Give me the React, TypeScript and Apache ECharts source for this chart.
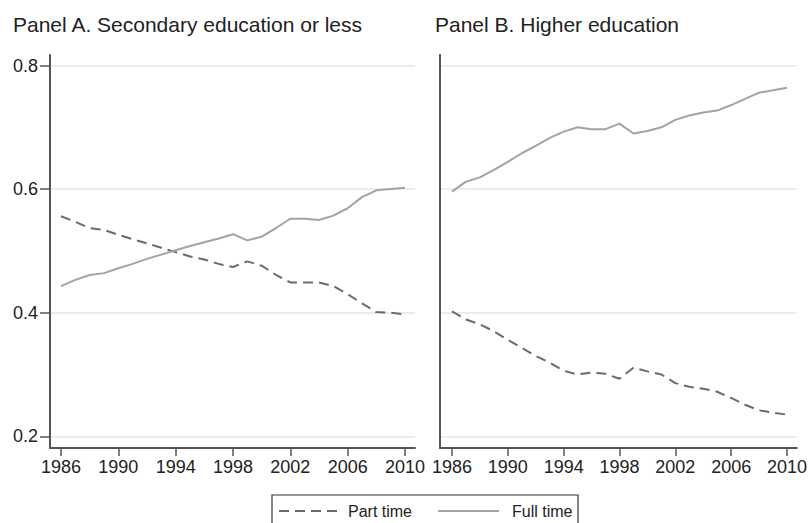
import React, { useEffect, useRef } from "react";
import * as echarts from "echarts";

const years = [1986, 1987, 1988, 1989, 1990, 1991, 1992, 1993, 1994, 1995, 1996, 1997, 1998, 1999, 2000, 2001, 2002, 2003, 2004, 2005, 2006, 2007, 2008, 2009, 2010];
const xTickYears = [1986, 1990, 1994, 1998, 2002, 2006, 2010];
const yTicks = [0.2, 0.4, 0.6, 0.8];

const panelAPart = [0.556, 0.547, 0.537, 0.534, 0.526, 0.519, 0.512, 0.505, 0.498, 0.491, 0.486, 0.479, 0.474, 0.483, 0.476, 0.461, 0.449, 0.449, 0.449, 0.443, 0.430, 0.415, 0.401, 0.400, 0.397];
const panelAFull = [0.443, 0.453, 0.461, 0.464, 0.472, 0.479, 0.487, 0.494, 0.501, 0.508, 0.514, 0.520, 0.527, 0.517, 0.523, 0.537, 0.552, 0.552, 0.550, 0.557, 0.569, 0.587, 0.598, 0.600, 0.602];
const panelBPart = [0.402, 0.389, 0.381, 0.370, 0.356, 0.343, 0.330, 0.319, 0.306, 0.300, 0.303, 0.301, 0.293, 0.311, 0.305, 0.300, 0.286, 0.280, 0.277, 0.272, 0.262, 0.251, 0.242, 0.238, 0.235];
const panelBFull = [0.596, 0.612, 0.619, 0.631, 0.644, 0.658, 0.670, 0.683, 0.693, 0.700, 0.697, 0.697, 0.706, 0.690, 0.694, 0.700, 0.712, 0.719, 0.724, 0.727, 0.736, 0.746, 0.756, 0.760, 0.764];

const titles = ["Panel A. Secondary education or less", "Panel B. Higher education"];
const seriesNames = ["Part time", "Full time"];

const FONT = "Liberation Sans, Arial, Helvetica, sans-serif";
const AXIS_COLOR = "#555555";
const PART_COLOR = "#6b6b6b";
const FULL_COLOR = "#a3a3a3";
const GRID_COLOR = "#e6e6e6";
const TEXT_COLOR = "#222222";
const DASH = [10, 6];

function pairs(values: number[]) {
  return years.map((y, i) => [y, values[i]]);
}

export default function App() {
  const ref = useRef<HTMLDivElement>(null);

  useEffect(() => {
    if (!ref.current) return;
    const chart = echarts.init(ref.current, undefined, { renderer: "svg" });

    const xAxisCommon = (gridIndex: number, min: number) => ({
      type: "value",
      gridIndex,
      min,
      max: 2010.7,
      axisLine: { show: true, lineStyle: { color: AXIS_COLOR, width: 2 } },
      axisTick: {
        show: true,
        inside: false,
        length: 8,
        customValues: xTickYears,
        lineStyle: { color: AXIS_COLOR, width: 1.5 },
      },
      axisLabel: {
        show: true,
        customValues: xTickYears,
        margin: 10,
        fontSize: 18,
        fontFamily: FONT,
        color: TEXT_COLOR,
        formatter: (v: number) => String(Math.round(v)),
      },
      splitLine: { show: false },
    });

    const yAxisCommon = (gridIndex: number, showLabels: boolean) => ({
      type: "value",
      gridIndex,
      min: 0.181,
      max: 0.817,
      axisLine: { show: true, lineStyle: { color: AXIS_COLOR, width: 2 } },
      axisTick: {
        show: showLabels,
        length: 10,
        customValues: yTicks,
        lineStyle: { color: AXIS_COLOR, width: 1.5 },
      },
      axisLabel: {
        show: showLabels,
        customValues: yTicks,
        margin: 12,
        fontSize: 18,
        fontFamily: FONT,
        color: TEXT_COLOR,
        formatter: (v: number) => v.toFixed(1),
      },
      splitLine: { show: true, lineStyle: { color: GRID_COLOR, width: 1.5 } },
    });

    const lineSeries = (name: string, idx: number, data: number[], dashed: boolean) => ({
      type: "line",
      name,
      xAxisIndex: idx,
      yAxisIndex: idx,
      data: pairs(data),
      showSymbol: false,
      symbol: "none",
      smooth: false,
      lineStyle: dashed
        ? { color: PART_COLOR, width: 2, type: DASH }
        : { color: FULL_COLOR, width: 2, type: "solid" },
      itemStyle: { color: dashed ? PART_COLOR : FULL_COLOR },
      z: 3,
    });

    const legendY = 511;
    chart.setOption({
      animation: false,
      backgroundColor: "#ffffff",
      title: [
        {
          text: titles[0],
          left: 8,
          top: 9,
          textStyle: { fontSize: 21, fontWeight: "normal", fontFamily: FONT, color: TEXT_COLOR },
        },
        {
          text: titles[1],
          left: 430,
          top: 9,
          textStyle: { fontSize: 21, fontWeight: "normal", fontFamily: FONT, color: TEXT_COLOR },
        },
      ],
      grid: [
        { left: 50, top: 55, width: 365, bottom: 75, containLabel: false },
        { left: 440, top: 55, width: 366, bottom: 75, containLabel: false },
      ],
      xAxis: [xAxisCommon(0, 1985.23), xAxisCommon(1, 1985.14)],
      yAxis: [yAxisCommon(0, true), yAxisCommon(1, false)],
      graphic: [
        {
          type: "rect",
          shape: { x: 272, y: 495, width: 306, height: 34 },
          style: { fill: "#ffffff", stroke: "#333333", lineWidth: 1.2 },
          z: 10,
        },
        {
          type: "line",
          shape: { x1: 279, y1: legendY, x2: 340, y2: legendY },
          style: { stroke: PART_COLOR, lineWidth: 2, lineDash: DASH },
          z: 11,
        },
        {
          type: "text",
          x: 348,
          y: legendY,
          style: { text: seriesNames[0], fontSize: 16, fontFamily: FONT, fill: TEXT_COLOR, verticalAlign: "middle", align: "left" },
          z: 11,
        },
        {
          type: "line",
          shape: { x1: 438, y1: legendY, x2: 499, y2: legendY },
          style: { stroke: FULL_COLOR, lineWidth: 2 },
          z: 11,
        },
        {
          type: "text",
          x: 512,
          y: legendY,
          style: { text: seriesNames[1], fontSize: 16, fontFamily: FONT, fill: TEXT_COLOR, verticalAlign: "middle", align: "left" },
          z: 11,
        },
      ],
      series: [
        lineSeries(seriesNames[0], 0, panelAPart, true),
        lineSeries(seriesNames[1], 0, panelAFull, false),
        lineSeries(seriesNames[0], 1, panelBPart, true),
        lineSeries(seriesNames[1], 1, panelBFull, false),
      ],
    });

    return () => chart.dispose();
  }, []);

  return (
    <div
      ref={ref}
      style={{ position: "fixed", left: 0, top: 0, width: 810, height: 523, background: "#fff" }}
    />
  );
}
